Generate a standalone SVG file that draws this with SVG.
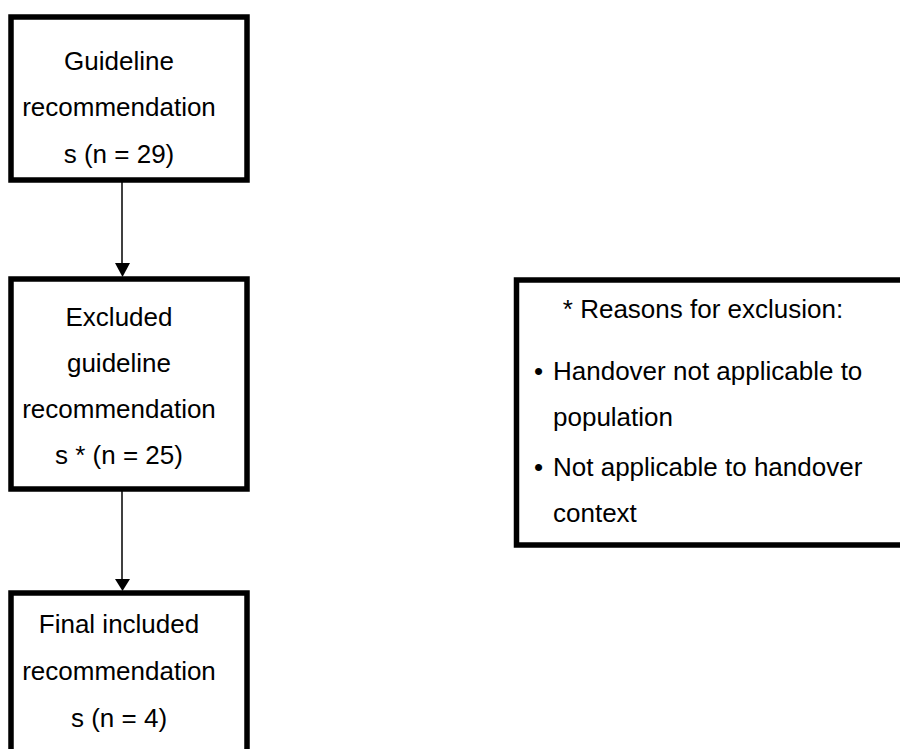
<svg xmlns="http://www.w3.org/2000/svg" width="900" height="749" viewBox="0 0 900 749">
<defs>
<style>
.box{fill:#fff;stroke:#000;stroke-width:5.5}
.t{font-family:"Liberation Sans",Arial,sans-serif;font-size:26px;fill:#000}
.c{text-anchor:middle}
.ln{stroke:#000;stroke-width:1.5;fill:none}
.ah{fill:#000}
</style>
</defs>
<rect width="900" height="749" fill="#fff"/>
<g id="connectors">
<line class="ln" x1="122" y1="182" x2="122" y2="265"/>
<polygon class="ah" points="115,263 130,263 122.5,277"/>
<line class="ln" x1="122" y1="491" x2="122" y2="581"/>
<polygon class="ah" points="115,579 130,579 122.5,591"/>
</g>
<g id="node1">
<rect class="box" x="11" y="17" width="236" height="163"/>
<text class="t c" x="119" y="70">Guideline</text>
<text class="t c" x="119" y="116">recommendation</text>
<text class="t c" x="119" y="163">s (n = 29)</text>
</g>
<g id="node2">
<rect class="box" x="11" y="279" width="236" height="210"/>
<text class="t c" x="119" y="326">Excluded</text>
<text class="t c" x="119" y="372">guideline</text>
<text class="t c" x="119" y="418">recommendation</text>
<text class="t c" x="119" y="464">s * (n = 25)</text>
</g>
<g id="node3">
<rect class="box" x="11" y="593" width="236" height="180"/>
<text class="t c" x="119" y="633">Final included</text>
<text class="t c" x="119" y="680">recommendation</text>
<text class="t c" x="119" y="727">s (n = 4)</text>
</g>
<g id="reasons">
<rect class="box" x="516.5" y="280" width="400" height="265"/>
<text class="t c" x="703" y="318">* Reasons for exclusion:</text>
<text class="t" x="534" y="380">•</text>
<text class="t" x="553" y="380">Handover not applicable to</text>
<text class="t" x="553" y="426">population</text>
<text class="t" x="534" y="476">•</text>
<text class="t" x="553" y="476">Not applicable to handover</text>
<text class="t" x="553" y="522">context</text>
</g>
</svg>
